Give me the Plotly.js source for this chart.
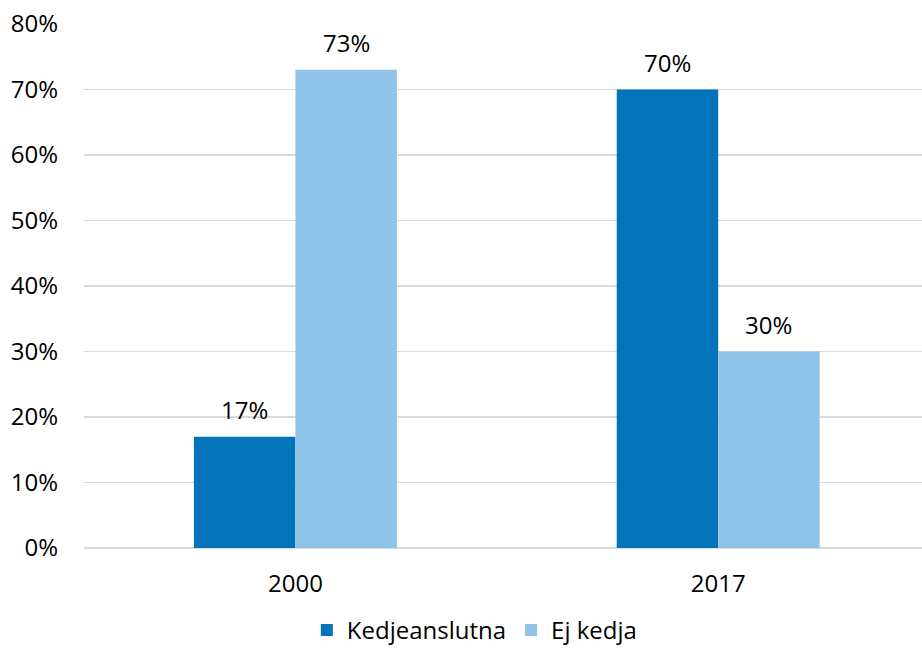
<!DOCTYPE html>
<html>
<head>
<meta charset="utf-8">
<script src="https://cdn.plot.ly/plotly-3.0.1.min.js"></script>
<style>
  html, body { margin: 0; padding: 0; background: #ffffff; overflow: hidden; }
  #chart { width: 922px; height: 653px; }
</style>
</head>
<body>
<div id="chart"></div>
<script>
// Share of stores by affiliation, per year (percent)
const years = ['2000', '2017'];
const seriesNames = ['Kedjeanslutna', 'Ej kedja'];
const kedjeanslutna = [17, 70];
const ejKedja = [73, 30];
const yTickValues = [0, 10, 20, 30, 40, 50, 60, 70, 80];

const colors = ['#0474BA', '#8FC4E8'];
const FONT = '"Open Sans", "Noto Sans", sans-serif';
const FONT_SIZE = 24;

const seriesValues = [kedjeanslutna, ejKedja];

const traces = seriesValues.map((vals, i) => ({
  type: 'bar',
  name: seriesNames[i],
  x: years,
  y: vals,
  marker: { color: colors[i], line: { width: 0 } },
  hoverinfo: 'skip'
}));

// Value labels above each bar, placed from the same values as the bars.
// Category positions are given by index so '2000' is not read as a number.
const barPx = 101.5;
const annotations = [];
seriesValues.forEach((vals, i) => {
  vals.forEach((v, j) => {
    annotations.push({
      x: j,
      y: v,
      xref: 'x',
      yref: 'y',
      text: v + '%',
      showarrow: false,
      xanchor: 'center',
      yanchor: 'bottom',
      xshift: (i === 0 ? -1 : 1) * barPx / 2,
      yshift: 9,
      font: { family: FONT, size: FONT_SIZE, color: '#000000' }
    });
  });
});

const layout = {
  width: 922,
  height: 653,
  margin: { l: 83.5, r: 0, t: 23.5, b: 104.5, pad: 0 },
  paper_bgcolor: '#ffffff',
  plot_bgcolor: '#ffffff',
  font: { family: FONT, size: FONT_SIZE, color: '#000000' },
  barmode: 'group',
  bargap: 0.52,
  bargroupgap: 0,
  xaxis: {
    type: 'category',
    range: [-0.5, 1.482],
    showgrid: false,
    zeroline: false,
    showline: false,
    ticks: '',
    ticklabelstandoff: 19,
    tickfont: { family: FONT, size: FONT_SIZE, color: '#000000' },
    fixedrange: true
  },
  yaxis: {
    range: [0, 80],
    tickmode: 'array',
    tickvals: yTickValues,
    ticktext: yTickValues.map(v => v + '%'),
    showgrid: true,
    gridcolor: '#D9D9D9',
    gridwidth: 1.8,
    zeroline: true,
    zerolinecolor: '#D9D9D9',
    zerolinewidth: 1.8,
    showline: false,
    ticks: '',
    ticklabelstandoff: 25,
    tickfont: { family: FONT, size: FONT_SIZE, color: '#000000' },
    fixedrange: true
  },
  showlegend: true,
  legend: {
    orientation: 'h',
    xref: 'container',
    yref: 'container',
    x: 0.515,
    xanchor: 'center',
    y: -0.008,
    yanchor: 'bottom',
    font: { family: FONT, size: FONT_SIZE, color: '#000000' },
    itemwidth: 30,
    traceorder: 'normal'
  },
  annotations: annotations
};

Plotly.newPlot('chart', traces, layout, { displayModeBar: false, staticPlot: true });
</script>
</body>
</html>
